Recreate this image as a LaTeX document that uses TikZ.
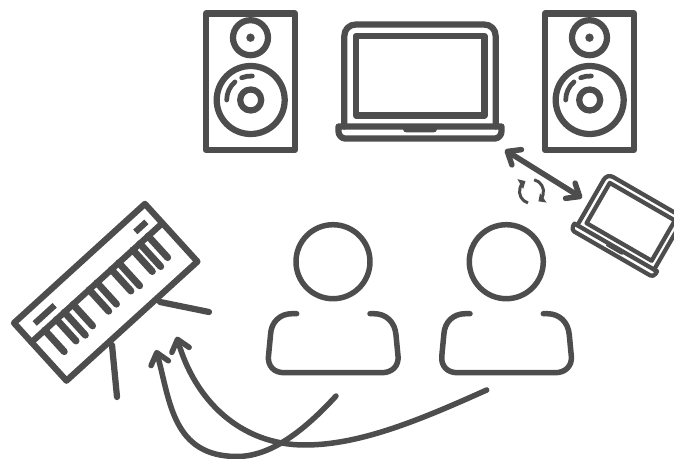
\documentclass[tikz,border=0pt]{standalone}
\usepackage{xcolor}
\usetikzlibrary{arrows.meta, calc}
\definecolor{iconcol}{HTML}{4D4D4D}

\tikzset{
  icon/.style={draw=iconcol, line width=1.1mm, line join=round, line cap=round},
  boldicon/.style={icon, line width=1.25mm},
  thinicon/.style={icon, line width=.95mm},
  keyline/.style={icon, line width=1.4mm},
  bigtip/.style={-{Straight Barb[length=2.2mm,width=3.6mm,round]}},
  bothtip/.style={{Straight Barb[length=2.2mm,width=3.6mm,round]}-{Straight Barb[length=2.2mm,width=3.6mm,round]}},
  synctip/.style={-{Triangle[length=1.2mm,width=2.2mm]}, icon, line width=.6mm, line cap=butt}
}

% laptop, origin at the middle of the base
\newcommand{\laptopicon}{
  \draw (-75.75,-6) -- (-75.75,-96) .. controls (-75.75,-103) and (-71,-108) .. (-64,-108)
    -- (64,-108) .. controls (71,-108) and (75.75,-103) .. (75.75,-96) -- (75.75,-6);
  \draw (-64,-96.5) rectangle (64.5,-17);
  \draw (-81.5,-6) -- (81.5,-6) -- (81.5,-1) .. controls (81.5,3) and (78,6) .. (75,6)
    -- (-75,6) .. controls (-78,6) and (-81.5,3) .. (-81.5,-1) -- cycle;
  \fill[iconcol] (-17,-6) -- (17,-6) -- (17,-3) .. controls (17,-1) and (15,0) .. (13,0)
    -- (-13,0) .. controls (-15,0) and (-17,-1) .. (-17,-3) -- cycle;
}

\begin{document}
\begin{tikzpicture}[x=0.02cm, y=-0.02cm]
  \clip (0,0) rectangle (674,459);

  % speakers
  \foreach \x in {0,339} {
    \begin{scope}[shift={(\x,0)}]
      \draw[boldicon] (206,13.5) rectangle (295,150);
      \draw[boldicon] (250.5,37.7) circle (17.5);
      \fill[iconcol] (250.5,37.7) circle (4.2);
      \draw[boldicon] (250.7,100) circle (34);
      \draw[boldicon] (250.7,100) circle (10.5);
      \draw[thinicon] ($(250.7,100)+(180:24)$) arc[start angle=180, end angle=229, radius=24];
      \draw[thinicon] ($(250.7,100)+(248:24)$) arc[start angle=248, end angle=274, radius=24];
    \end{scope}
  }

  % laptops
  \begin{scope}[shift={(420,132.5)}, boldicon]
    \laptopicon
  \end{scope}
  \begin{scope}[shift={(614,250.5)}, rotate=-30, scale=.585, icon, line width=.85mm]
    \laptopicon
  \end{scope}

  % keyboard
  \begin{scope}[shift={(14,323)}, rotate=42.3]
    \draw[boldicon] (0,0) rectangle (177,78);
    \draw[boldicon] (0,26) -- (177,26);
    \draw[boldicon, line cap=butt] (15,14.3) -- (42,14.3);
    \draw[boldicon, line cap=butt] (151,14.3) -- (166,14.3);
    \foreach \k/\e in {17.9/55, 33.8/55, 44.6/57, 56.2/55, 78/55, 88.5/55, 108/55, 118/57, 137/55, 146.5/57, 157.7/55}
      \draw[keyline] (\k,26) -- (\k,\e);
  \end{scope}
  \draw[boldicon] (112,345) -- (117,397);
  \draw[boldicon] (160,302) -- (209,312);

  % people
  \foreach \p in {0,173.3} {
    \begin{scope}[shift={(\p,0)}]
      \draw[icon] (333,261.7) circle (37);
      \draw[icon] (296.7,313.7) -- (292,313.7) .. controls (280,313.7) and (271,322) .. (270.5,335)
        -- (268.5,356) .. controls (267.5,366) and (274,372.7) .. (284,372.7)
        -- (382,372.7) .. controls (392,372.7) and (399,366) .. (398,356)
        -- (396,335) .. controls (395,322) and (386,313.7) .. (374,313.7) -- (370,313.7);
    \end{scope}
  }

  % arrows
  \coordinate (persona) at (336,396);
  \coordinate (personb) at (486.7,390);
  \coordinate (keysa) at (156,350);
  \coordinate (keysb) at (176.7,336.7);
  \coordinate (mainpc) at (505,150);
  \coordinate (sidepc) at (582,198);
  \draw[icon, bigtip] (persona) .. controls (303,432) and (270,456.5) .. (237,456.5)
    .. controls (172,456.5) and (170,400) .. (keysa);
  \draw[icon, bigtip] (personb) .. controls (420,420) and (360,445) .. (305,445)
    .. controls (240,445) and (195,400) .. (keysb);
  \draw[icon, bothtip] (mainpc) -- (sidepc);

  % sync
  \draw[synctip] ($(531.5,191.5)+(107:12)$) arc[start angle=107, end angle=240, radius=12];
  \draw[synctip] ($(531.5,191.5)+(-77:12)$) arc[start angle=-77, end angle=55, radius=12];
\end{tikzpicture}
\end{document}
